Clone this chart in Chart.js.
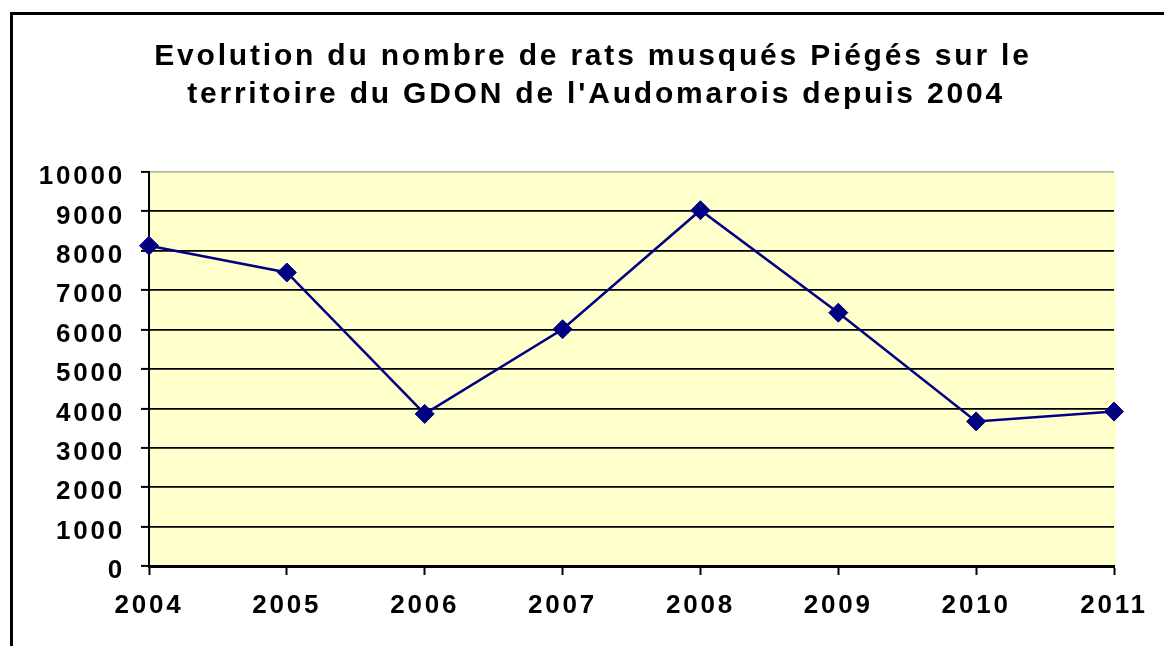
<!DOCTYPE html>
<html>
<head>
<meta charset="utf-8">
<script src="https://cdn.jsdelivr.net/npm/chart.js@4/dist/chart.umd.min.js"></script>
<style>
html,body{margin:0;padding:0;background:#fff;}
#wrap{width:1164px;height:646px;position:relative;}
</style>
</head>
<body>
<div id="wrap"><canvas id="c" width="1164" height="646"></canvas></div>
<script>
const categories = ['2004','2005','2006','2007','2008','2009','2010','2011'];
const ratsPieges = [8130, 7450, 3860, 6010, 9030, 6430, 3670, 3920];
const yTicks = [0,1000,2000,3000,4000,5000,6000,7000,8000,9000,10000];
const titleLines = ["Evolution du nombre de rats musqués Piégés sur le", "territoire du GDON de l'Audomarois depuis 2004"];

const FONT = "'Liberation Sans', Arial, sans-serif";
const SPACING = '2.8px';

const spacingPlugin = {
  id: 'spacing',
  beforeLayout(chart){ chart.ctx.letterSpacing = SPACING; },
  beforeDraw(chart){ chart.ctx.letterSpacing = SPACING; }
};

const bgPlugin = {
  id: 'bg',
  beforeDraw(chart){
    const {ctx, chartArea:a} = chart;
    ctx.save();
    ctx.fillStyle = '#ffffff';
    ctx.fillRect(0,0,chart.width,chart.height);
    ctx.fillStyle = '#FFFFCC';
    ctx.fillRect(a.left, a.top, a.right - a.left + 2, a.bottom - a.top);
    ctx.strokeStyle = '#000';
    ctx.lineWidth = 3;
    ctx.beginPath();
    ctx.moveTo(11.5, chart.height);
    ctx.lineTo(11.5, 13.5);
    ctx.lineTo(chart.width, 13.5);
    ctx.stroke();
    ctx.restore();
  },
  afterDraw(chart){
    const ctx = chart.ctx;
    ctx.save();
    ctx.letterSpacing = SPACING;
    ctx.fillStyle = '#000';
    ctx.font = "bold 30px " + FONT;
    ctx.textAlign = 'center';
    ctx.textBaseline = 'middle';
    ctx.fillText(titleLines[0], 593, 57);
    ctx.fillText(titleLines[1], 596, 95);
    ctx.restore();
  }
};

new Chart(document.getElementById('c'), {
  type: 'line',
  data: {
    labels: categories,
    datasets: [{
      data: ratsPieges,
      borderColor: '#000080',
      backgroundColor: '#000080',
      borderWidth: 2.5,
      pointStyle: 'rectRot',
      pointRadius: 9.5,
      pointHoverRadius: 9.5,
      pointBorderWidth: 1,
      pointBorderColor: '#000080',
      pointBackgroundColor: '#000080',
      tension: 0,
      clip: false
    }]
  },
  options: {
    responsive: false,
    animation: false,
    events: [],
    layout: { padding: { left: 15, right: 50, top: 172, bottom: 0 } },
    plugins: {
      legend: { display: false },
      tooltip: { enabled: false },
      title: { display: false }
    },
    scales: {
      x: {
        type: 'category',
        offset: false,
        afterFit(s){ s.height = 80; },
        grid: {
          offset: false,
          drawOnChartArea: false,
          drawTicks: true,
          tickLength: 9,
          tickWidth: 2,
          tickColor: '#000'
        },
        border: { display: true, color: '#000', width: 3 },
        ticks: {
          color: '#000',
          padding: 15,
          maxRotation: 0,
          autoSkip: false,
          font: { family: FONT, size: 26, weight: 'bold' }
        }
      },
      y: {
        min: 0,
        max: 10000,
        afterFit(s){ s.width = 134; },
        afterBuildTicks(s){ s.ticks = yTicks.map(v => ({value: v})); },
        grid: {
          drawOnChartArea: true,
          drawTicks: true,
          tickLength: 8,
          lineWidth: 1.8,
          tickWidth: 2,
          tickColor: '#000',
          color: ctx => (ctx.tick && ctx.tick.value === 10000) ? '#b8b8a0' : '#000'
        },
        border: { display: true, color: '#000', width: 2 },
        ticks: {
          color: '#000',
          padding: 16,
          labelOffset: 5,
          font: { family: FONT, size: 26, weight: 'bold' },
          callback: v => String(v)
        }
      }
    }
  },
  plugins: [spacingPlugin, bgPlugin]
});
</script>
</body>
</html>
